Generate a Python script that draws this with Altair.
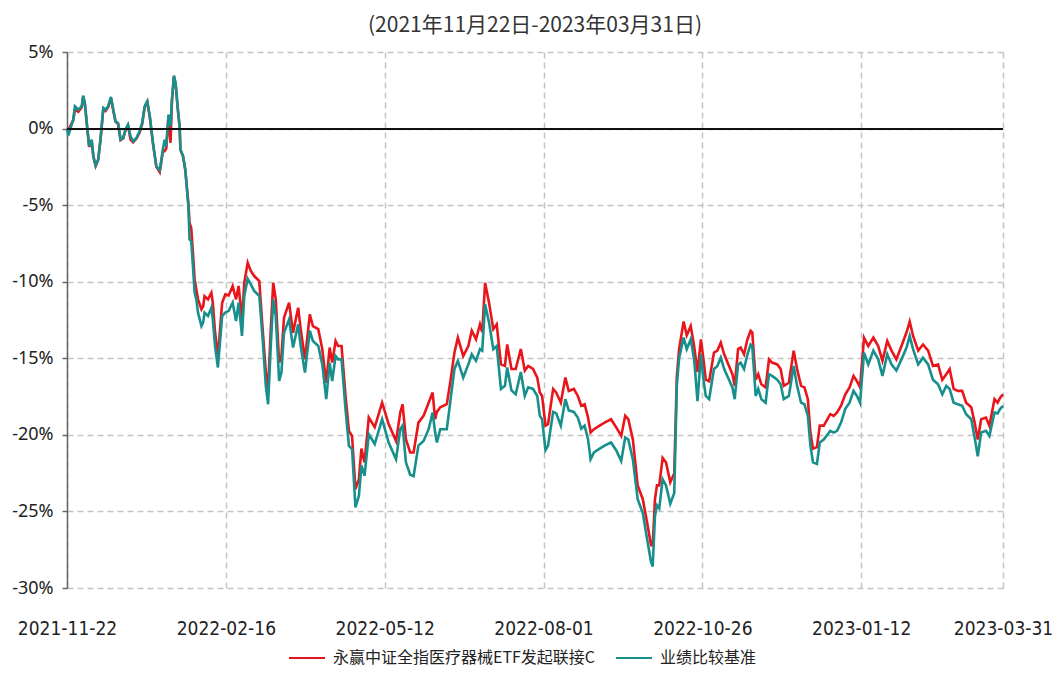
import altair as alt
import pandas as pd

# trading-day position (0 = 2021-11-22, 330 = 2023-03-31)
days = [0, 0.5, 2.2, 2.8, 4.0, 5.2, 5.7, 6.3, 7.1, 7.8, 8.7, 9.3, 10.1, 11.0, 11.8, 12.8, 13.6, 14.5, 15.5, 16.3,
        17.1, 18.0, 18.9, 19.8, 20.6, 21.5, 22.4, 23.3, 24.5, 25.6, 26.5, 27.4, 28.3, 29.2, 30.3, 31.5, 32.7, 33.8,
        34.4, 35.0, 35.8, 36.5, 37.0, 37.7, 38.3, 39.1, 39.7, 40.0, 40.9, 41.7, 42.4, 42.8, 43.2, 43.8, 44.4, 45.0,
        45.6, 46.2, 47.4, 48.0, 48.5, 49.7, 50.9, 51.4, 52.2, 53.2,
        54.7, 55.8, 57.0, 58.4, 59.6, 60.5, 61.7, 62.5, 63.7, 64.8, 66.0, 67.8, 68.9, 70.1, 70.9, 71.9, 72.7, 73.6,
        74.8, 75.6, 76.5, 78.3, 79.7, 81.5, 82.4, 83.9, 85.6, 86.7, 88.6, 90.0, 91.4, 92.6, 93.5, 94.7, 95.6, 96.8,
        98.2, 99.4, 100.5, 101.7, 102.9, 103.8, 104.9, 106.4, 108.5, 111.1,
        113.4, 116.0, 117.5, 118.3, 119.5, 121.0, 122.2, 123.9, 125.7, 127.5, 128.9, 129.8, 130.4, 131.6, 133.9,
        135.1, 136.6, 137.8, 139.7, 141.5, 142.7, 144.2, 145.6, 146.4, 147.4, 148.8, 150.3, 151.5, 153.0, 154.4,
        155.2, 156.7, 158.2, 160.0, 161.4, 162.6, 164.3, 165.8,
        166.7, 167.5, 168.7, 169.6, 171.4, 172.5, 174.1, 175.7, 176.9, 178.7, 180.1, 181.3, 182.5, 183.7, 184.6,
        185.8, 187.8, 189.5, 191.8, 193.6, 195.4, 196.8, 197.9, 199.5, 201.2, 203.0, 204.7, 205.9, 206.5, 207.3,
        208.0, 208.8, 210.0, 211.2, 212.7, 214.1, 215.0, 215.8, 217.4, 218.5, 219.9, 221.1, 222.3, 223.5,
        224.4, 225.2, 226.4, 228.1, 229.3, 230.5, 231.7, 233.4, 234.6, 235.4, 236.6, 237.5, 238.7, 239.9, 241.0,
        241.6, 242.8, 243.7, 244.8, 246.3, 247.5, 248.6, 250.4, 251.6, 252.7, 254.5, 256.2, 257.4, 258.8, 260.0,
        261.2, 262.1, 263.0, 264.4, 265.4, 266.8, 269.1, 270.3, 271.5, 272.9, 274.4, 275.9, 277.3, 278.5, 279.6,
        281.0, 282.5, 284.3, 286.0, 287.5, 289.2, 290.7, 292.4, 294.2, 296.0, 297.1, 298.3, 300.1, 301.8, 303.6,
        305.3, 307.1, 308.6, 310.0, 311.2, 312.6, 314.1, 315.6, 317.0, 318.8, 320.0, 321.1, 322.3, 324.0, 325.2,
        327.0, 328.1, 329.0, 330.0]

fund = [0, -0.1, 0.55, 1.24, 1.1, 1.4, 2.1, 1.6, 0.1, -1.2, -0.8, -1.85, -2.45, -2.05, -0.75, 1.3, 1.15, 1.4, 2.0, 1.2,
        0.45, 0.3, -0.75, -0.65, -0.1, 0.2, -0.72, -0.9, -0.65, -0.25, 0.3, 1.4, 1.75, 0.75, -0.95, -2.5, -2.85, -1.5,
        -1.48, -1.3, 0.85, -0.93, 1.8, 3.4, 2.9, 1.2, 0.1, -1.4, -1.8, -2.7, -4.1, -4.9, -6.15, -6.5, -8.1, -9.85,
        -10.5, -11.15, -11.8, -11.6, -10.94, -11.15, -10.72, -11.37, -13.3, -14.9,
        -11.37, -10.83, -10.9, -10.28, -11.15, -10.28, -12.46, -10.07, -8.76, -9.3, -9.63, -9.96, -12.9, -15.9, -17.0,
        -12.9, -10.07, -11.15, -15.28, -14.85, -12.35, -11.37, -13.33, -11.7, -13.1, -15.07, -12.13, -12.9, -13.1,
        -14.4, -16.6, -14.3, -15.28, -13.87, -14.2, -14.2, -17.46, -19.74, -20.07, -23.54, -22.9, -20.9, -21.8,
        -18.87, -19.5, -17.9,
        -19.3, -20.4, -18.54, -18.0, -20.3, -21.15, -21.15, -19.2, -18.76, -17.9, -17.24, -18.98, -18.5, -18.2,
        -18.0, -16.6, -14.63, -13.65, -14.85, -14.2, -13.2, -13.76, -12.78, -13.3, -10.07, -11.37, -13.1, -12.78,
        -15.4, -15.5, -14.1, -15.7, -15.7, -14.4, -15.8, -15.5, -15.7, -16.26,
        -17.24, -17.46, -19.4, -19.3, -17.0, -17.24, -17.9, -16.26, -17.13, -17.0, -17.46, -18.1, -18.0, -18.87,
        -19.85, -19.63, -19.4, -19.2, -18.98, -19.5, -20.07, -18.76, -18.98, -20.3, -23.3, -24.2, -25.9, -27.2,
        -27.2, -24.2, -23.3, -23.3, -21.5, -21.8, -23.1, -22.5, -16.2, -14.4, -12.6, -13.5, -12.9, -14.2, -15.9,
        -13.76,
        -15.07, -16.4, -16.5, -14.63, -14.5, -13.98, -14.74, -15.5, -16.04, -16.8, -14.4, -14.3, -14.74, -13.76,
        -13.2, -13.3, -16.4, -16.04, -16.7, -16.9, -15.07, -15.28, -15.4, -15.7, -16.8, -16.6, -14.5, -15.7, -16.8,
        -16.9, -17.67, -19.85, -20.9, -20.8, -19.4, -19.4, -18.65, -18.76, -18.54, -18.1, -17.35, -16.9, -16.15,
        -16.5, -16.9,
        -13.65, -14.2, -13.65, -14.2, -15.17, -13.87, -14.5, -15.07, -14.2, -13.3, -12.6, -13.54, -14.5, -14.1,
        -14.5, -15.5, -15.4, -16.4, -16.04, -15.7, -17.0, -17.13, -17.13, -17.9, -18.2, -19.2, -20.3, -18.98,
        -18.87, -19.4, -17.67, -17.9, -17.57, -17.35]

bench = [0, -0.45, 0.59, 1.46, 1.24, 1.46, 2.15, 1.67, 0.15, -1.15, -0.72, -1.8, -2.41, -2.02, -0.72, 1.35, 1.24,
         1.46, 2.07, 1.24, 0.48, 0.37, -0.72, -0.61, -0.07, 0.26, -0.5, -0.83, -0.61, -0.17, 0.37, 1.46, 1.78, 0.8,
         -0.93, -2.46, -2.72, -1.37, -0.72, -1.15, 0.91, 0.15, 1.89, 3.46, 2.98, 1.24, 0.15, -1.37, -1.8, -2.67,
         -4.2, -5.07, -7.24, -7.35, -8.98, -10.72, -11.15, -12.02, -12.89, -12.67, -12.02, -12.24, -11.7, -12.46,
         -14.2, -15.6,
         -12.24, -12.02, -11.9, -11.37, -12.57, -11.37, -13.54, -10.93, -9.8, -10.17, -10.6, -10.93, -13.54, -16.8,
         -18.0, -14.0, -11.15, -12.24, -16.48, -15.93, -13.33, -12.46, -14.3, -12.78, -14.2, -15.93, -13.2, -13.87,
         -14.2, -15.4, -17.67, -15.3, -16.48, -14.85, -15.07, -15.07, -18.33, -20.72, -20.93, -24.74, -24.0, -22.0,
         -22.67, -19.96, -20.6, -18.98,
         -20.5, -21.6, -19.63, -19.4, -21.8, -22.6, -22.7, -20.7, -20.4, -19.63, -18.54, -19.85, -20.5, -19.63,
         -19.63, -17.9, -15.7, -15.17, -16.26, -15.4, -14.74, -15.17, -14.4, -14.5, -11.48, -12.67, -14.4, -14.2,
         -17.0, -16.8, -15.6, -17.1, -17.35, -15.9, -17.46, -16.9, -17.0, -17.46,
         -18.76, -18.98, -21.0, -20.7, -18.5, -18.6, -19.4, -17.67, -18.4, -18.5, -18.87, -19.6, -19.4, -20.3,
         -21.6, -21.15, -20.9, -20.7, -20.5, -21.0, -21.7, -20.17, -20.3, -21.6, -24.2, -25.1, -27.0, -28.3, -28.6,
         -25.3, -24.6, -24.8, -22.9, -23.3, -24.5, -23.8, -16.8, -15.0, -13.65, -14.4, -13.76, -15.07, -17.8,
         -14.74,
         -16.4, -17.46, -17.67, -15.7, -15.5, -14.96, -15.7, -16.4, -16.9, -17.67, -15.4, -15.28, -15.7, -14.74,
         -14.1, -14.2, -17.46, -17.0, -17.67, -17.9, -16.04, -16.15, -16.4, -16.7, -17.67, -17.46, -15.5, -16.8,
         -17.9, -18.0, -18.76, -20.7, -21.8, -21.9, -20.5, -20.3, -19.74, -19.85, -19.74, -19.2, -18.3, -17.9,
         -17.13, -17.46, -17.9,
         -14.63, -15.4, -14.5, -15.07, -16.15, -14.74, -15.4, -15.8, -15.07, -14.3, -13.54, -14.4, -15.4, -14.96,
         -15.4, -16.4, -16.7, -17.35, -16.8, -17.0, -17.9, -18.0, -18.1, -18.65, -18.98, -20.17, -21.4, -19.85,
         -19.74, -20.07, -18.54, -18.6, -18.3, -18.1]

series_names = ["永赢中证全指医疗器械ETF发起联接C", "业绩比较基准"]
series_colors = ["#e8161b", "#17908d"]
tick_days = [0, 56, 112, 168, 224, 280, 330]
tick_labels = ["2021-11-22", "2022-02-16", "2022-05-12", "2022-08-01", "2022-10-26", "2023-01-12", "2023-03-31"]
y_ticks = [5, 0, -5, -10, -15, -20, -25, -30]
title_text = "(2021年11月22日-2023年03月31日)"

rows = []
for name, vals in zip(series_names, [fund, bench]):
    for d, v in zip(days, vals):
        rows.append({"day": d, "value": v, "series": name})
df = pd.DataFrame(rows)

label_expr = "".join(f"datum.value == {d} ? '{t}' : " for d, t in zip(tick_days, tick_labels)) + "''"

grid_kw = dict(grid=True, gridDash=[6, 4], gridColor="#c4c4c4", gridWidth=1.5)

lines = alt.Chart(df).mark_line(strokeWidth=2.6).encode(
    x=alt.X("day:Q",
            scale=alt.Scale(domain=[0, 330], nice=False, zero=False),
            axis=alt.Axis(values=tick_days, labelExpr=label_expr, domain=False, ticks=False,
                          labelFlush=False, labelPadding=31, labelFontSize=19,
                          labelFont="DejaVu Sans Condensed, Liberation Sans, sans-serif",
                          labelColor="#222", title=None, **grid_kw)),
    y=alt.Y("value:Q",
            scale=alt.Scale(domain=[-30, 5], nice=False, zero=False),
            axis=alt.Axis(values=y_ticks, labelExpr="datum.value + '%'", domain=True, domainColor="#666",
                          domainWidth=1.5, tickSize=5, tickColor="#666", tickWidth=1.5, labelPadding=9,
                          labelFontSize=18, labelFont="Noto Sans", labelColor="#222", title=None, **grid_kw)),
    color=alt.Color("series:N",
                    scale=alt.Scale(domain=series_names, range=series_colors),
                    legend=alt.Legend(orient="none", legendX=221, legendY=587, direction="horizontal",
                                      title=None, symbolType="stroke", symbolSize=1296,
                                      symbolStrokeWidth=2, labelFontSize=16, labelFont="Noto Sans CJK SC",
                                      labelLimit=500, labelColor="#222", labelOffset=7, columnPadding=16,
                                      padding=0)),
    order=alt.Order("series:N", sort="descending"),
)

zero_line = alt.Chart(df).mark_rule(color="#111", strokeWidth=1.2).encode(y=alt.datum(0))

chart = alt.layer(lines, zero_line).properties(
    width=936, height=536,
    title=alt.TitleParams(title_text, fontSize=21, font="Noto Sans CJK SC", fontWeight="normal",
                          color="#333", anchor="middle", offset=7),
    autosize=alt.AutoSizeParams(type="none"),
    padding={"left": 59, "top": 44, "right": 49, "bottom": 81},
).configure_view(stroke=None)

chart.save("out.html", embed_options={"renderer": "svg", "actions": False})
